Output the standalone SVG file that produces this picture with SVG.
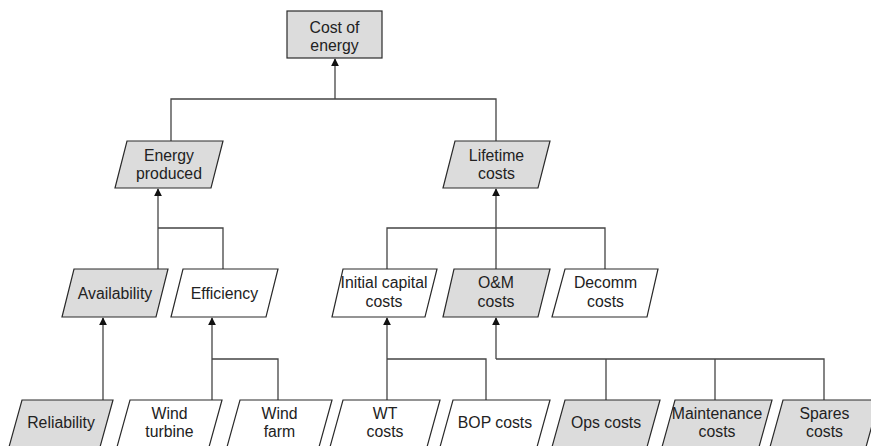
<svg xmlns="http://www.w3.org/2000/svg" width="871" height="446" viewBox="0 0 871 446">
<defs>
<style>
.box{stroke:#2a2a2a;stroke-width:1.2}
.g{fill:#dcdcdc}
.w{fill:#ffffff}
.t{font-family:"Liberation Sans",Arial,sans-serif;font-size:15.8px;fill:#222;text-anchor:middle}
.c{fill:none;stroke:#444;stroke-width:1.3}
</style>
<marker id="ah" viewBox="0 0 10 10" refX="9" refY="5" markerWidth="8" markerHeight="8" markerUnits="userSpaceOnUse" orient="auto">
<path d="M0,0 L10,5 L0,10 z" fill="#111"/>
</marker>
</defs>
<rect width="871" height="446" fill="#ffffff"/>

<g id="connectors">
<path class="c" d="M335,99 V59" marker-end="url(#ah)"/>
<path class="c" d="M171,141 V99 H496 V141"/>
<path class="c" d="M158,269 V189" marker-end="url(#ah)"/>
<path class="c" d="M158,228 H223 V269"/>
<path class="c" d="M496,269 V189" marker-end="url(#ah)"/>
<path class="c" d="M387,269 V228 H605 V269"/>
<path class="c" d="M103,400 V318" marker-end="url(#ah)"/>
<path class="c" d="M212,400 V318" marker-end="url(#ah)"/>
<path class="c" d="M212,359 H278 V400"/>
<path class="c" d="M387,400 V318" marker-end="url(#ah)"/>
<path class="c" d="M387,359 H486 V400"/>
<path class="c" d="M496,359 V318" marker-end="url(#ah)"/>
<path class="c" d="M496,359 H824 V400"/>
<path class="c" d="M606,359 V400"/>
<path class="c" d="M715,359 V400"/>
</g>

<g id="cost-of-energy">
<rect class="box g" x="287" y="11" width="95" height="47"/>
<text class="t" x="334.5" y="33">Cost of</text>
<text class="t" x="334.5" y="51">energy</text>
</g>

<g id="energy-produced">
<polygon class="box g" points="127,141 223,141 211,188 115,188"/>
<text class="t" x="169" y="161">Energy</text>
<text class="t" x="169" y="179">produced</text>
</g>

<g id="lifetime-costs">
<polygon class="box g" points="455,141 550,141 538,188 443,188"/>
<text class="t" x="496.5" y="161">Lifetime</text>
<text class="t" x="496.5" y="179">costs</text>
</g>

<g id="availability">
<polygon class="box g" points="74,269 168,269 156,317 62,317"/>
<text class="t" x="115" y="299">Availability</text>
</g>

<g id="efficiency">
<polygon class="box w" points="183,269 278,269 266,317 171,317"/>
<text class="t" x="224.5" y="299">Efficiency</text>
</g>

<g id="initial-capital-costs">
<polygon class="box w" points="343,269 437,269 425,317 332,317"/>
<text class="t" x="384" y="288">Initial capital</text>
<text class="t" x="384" y="307">costs</text>
</g>

<g id="om-costs">
<polygon class="box g" points="454,269 550,269 538,317 443,317"/>
<text class="t" x="496" y="288">O&amp;M</text>
<text class="t" x="496" y="307">costs</text>
</g>

<g id="decomm-costs">
<polygon class="box w" points="565,269 658,269 647,317 552,317"/>
<text class="t" x="605.5" y="288">Decomm</text>
<text class="t" x="605.5" y="307">costs</text>
</g>

<g id="reliability">
<polygon class="box g" points="22,400 113,400 100,447 9,447"/>
<text class="t" x="61" y="428">Reliability</text>
</g>

<g id="wind-turbine">
<polygon class="box w" points="130,400 222,400 209,447 117,447"/>
<text class="t" x="169.5" y="419">Wind</text>
<text class="t" x="169.5" y="437">turbine</text>
</g>

<g id="wind-farm">
<polygon class="box w" points="240,400 332,400 319,447 227,447"/>
<text class="t" x="279.5" y="419">Wind</text>
<text class="t" x="279.5" y="437">farm</text>
</g>

<g id="wt-costs">
<polygon class="box w" points="343,400 440,400 427,447 330,447"/>
<text class="t" x="385" y="419">WT</text>
<text class="t" x="385" y="437">costs</text>
</g>

<g id="bop-costs">
<polygon class="box w" points="453,400 550,400 537,447 440,447"/>
<text class="t" x="495" y="428">BOP costs</text>
</g>

<g id="ops-costs">
<polygon class="box g" points="565,400 660,400 647,447 552,447"/>
<text class="t" x="606" y="428">Ops costs</text>
</g>

<g id="maintenance-costs">
<polygon class="box g" points="675,400 772,400 759,447 662,447"/>
<text class="t" x="717" y="419">Maintenance</text>
<text class="t" x="717" y="437">costs</text>
</g>

<g id="spares-costs">
<polygon class="box g" points="783,400 879,400 866,447 770,447"/>
<text class="t" x="824.5" y="419">Spares</text>
<text class="t" x="824.5" y="437">costs</text>
</g>
</svg>
